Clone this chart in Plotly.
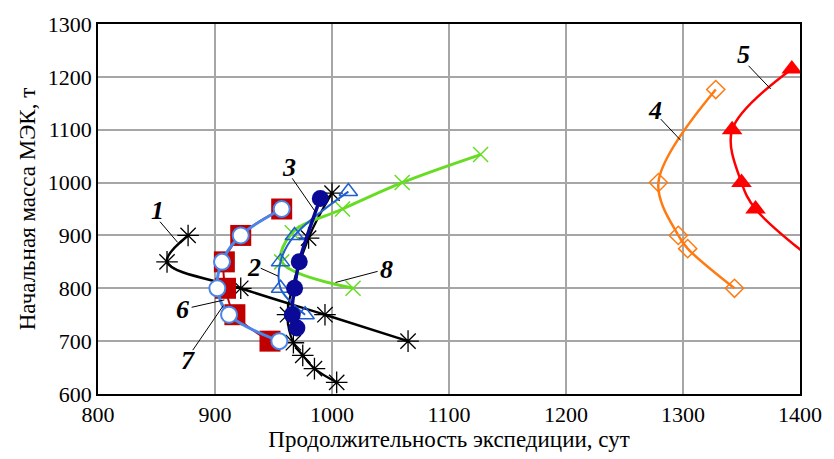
import plotly.graph_objects as go

# Curve 1: black asterisks (lower-left branch)
c1_x = [1065, 994, 922, 859, 877]
c1_y = [700, 750, 800, 850, 900]
# Second black asterisk curve (near-vertical)
c1b_x = [1004, 985, 975, 967, 962, 980, 1000]
c1b_y = [622, 648, 673, 697, 750, 895, 980]
# Curve 2: open blue triangles
c2_x = [977, 956, 956, 968, 1014]
c2_y = [750, 800, 850, 900, 983]
# Curve 3: navy filled circles
c3_x = [970, 966, 968, 972, 990]
c3_y = [725, 750, 800, 850, 970]
# Curve 4: orange open diamonds
c4_x = [1344, 1304, 1296, 1279, 1328]
c4_y = [800, 875, 900, 1000, 1176]
# Curve 5: red filled triangles
c5_x = [1425, 1362, 1350, 1342, 1393]
c5_y = [830, 950, 1000, 1100, 1215]
# Curve 6: dark red squares
c6_x = [947, 917, 909, 908, 922, 957]
c6_y = [700, 750, 800, 850, 900, 950]
# Curve 7: white circles with blue outline
c7_x = [955, 912, 902, 906, 922, 957]
c7_y = [700, 750, 800, 850, 900, 950]
# Curve 8: green crosses
c8_x = [1018, 957, 966, 1009, 1060, 1127]
c8_y = [800, 850, 905, 950, 1000, 1053]

x_ticks = [800, 900, 1000, 1100, 1200, 1300, 1400]
y_ticks = [600, 700, 800, 900, 1000, 1100, 1200, 1300]

# Curve labels: text, text position, leader line start and end
labels = [
    ("1", 851, 947, 853, 926, 868, 887),
    ("2", 933, 840, 939, 838, 954, 823),
    ("3", 963, 1028, 966, 1008, 986, 944),
    ("4", 1276, 1137, 1281, 1120, 1298, 1080),
    ("5", 1352, 1243, 1356, 1221, 1375, 1177),
    ("6", 872, 759, 880, 764, 908, 778),
    ("7", 877, 663, 881, 683, 907, 767),
    ("8", 1047, 835, 1039, 832, 1003, 811),
]

SERIF = "Liberation Serif"

fig = go.Figure()

def add(x, y, color, width, symbol, msize, mcolor=None, mline=None, mlw=1.5, smooth=1.0):
    fig.add_trace(go.Scatter(
        x=x, y=y, mode="lines+markers",
        line=dict(color=color, width=width, shape="spline", smoothing=smooth),
        marker=dict(symbol=symbol, size=msize,
                    color=mcolor if mcolor else color,
                    line=dict(color=mline if mline else color, width=mlw)),
        showlegend=False, cliponaxis=True,
    ))

add(c1_x, c1_y, "black", 2.5, "asterisk-open", 18, mlw=1.3)
add(c1b_x, c1b_y, "black", 2.2, "asterisk-open", 18, mlw=1.3)
add(c4_x, c4_y, "#ff7a10", 2.5, "diamond-open", 14, mlw=1.5)
add(c5_x, c5_y, "#ff0000", 2.5, "triangle-up", 18, mlw=0)
add(c8_x, c8_y, "#66dd22", 3, "x-thin-open", 15, mlw=1.5)
add(c2_x, c2_y, "#1f5fd0", 2, "triangle-up-open", 16, mlw=1.5)
add(c3_x, c3_y, "#0a0a96", 3.5, "circle", 17, mlw=0)
add(c6_x, c6_y, "#c00000", 2, "square", 21, mlw=0)
add(c7_x, c7_y, "#4a86e8", 3, "circle", 16, mcolor="white", mline="#4a86e8", mlw=2)

for txt, tx, ty, x0, y0, x1, y1 in labels:
    fig.add_shape(type="line", x0=x0, y0=y0, x1=x1, y1=y1,
                  line=dict(color="black", width=1), layer="above")
    fig.add_annotation(x=tx, y=ty, text=f"<b><i>{txt}</i></b>", showarrow=False,
                       font=dict(family=SERIF, size=26, color="black"),
                       xanchor="center", yanchor="middle")

axis_common = dict(
    showline=True, linecolor="black", linewidth=1.5, mirror=True,
    showgrid=True, gridcolor="#a6a6a6", gridwidth=1.5,
    ticks="", zeroline=False,
    tickfont=dict(family=SERIF, size=22, color="black"),
)

fig.update_xaxes(range=[800, 1400], tickvals=x_ticks,
                 title=dict(text="Продолжительность экспедиции, сут",
                            font=dict(family=SERIF, size=23, color="black"), standoff=4),
                 **axis_common)
fig.update_yaxes(range=[600, 1300], tickvals=y_ticks,
                 title=dict(text="Начальная масса МЭК, т",
                            font=dict(family=SERIF, size=23, color="black"), standoff=6),
                 **axis_common)

fig.update_layout(
    width=834, height=459,
    margin=dict(l=98, r=25, t=22, b=61),
    paper_bgcolor="white", plot_bgcolor="white",
)

fig.write_html("out.html")
